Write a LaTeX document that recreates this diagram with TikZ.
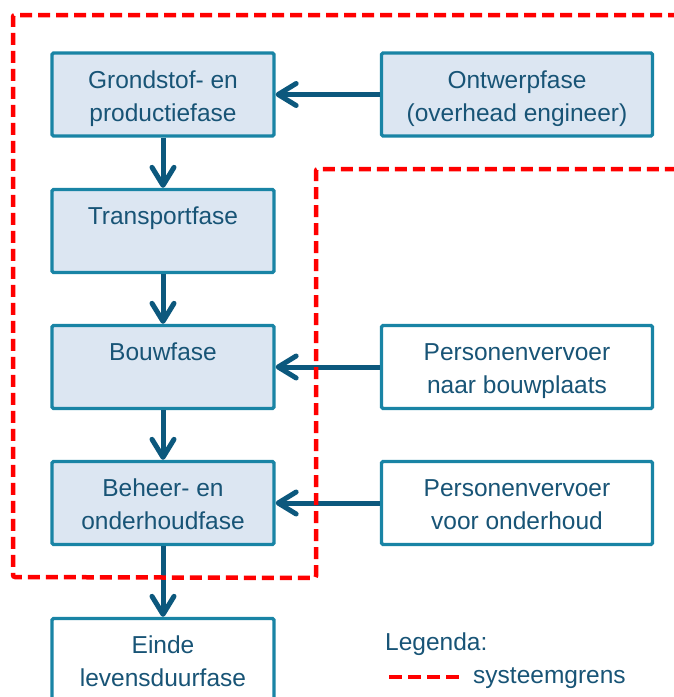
\documentclass[tikz,border=0pt]{standalone}
\usepackage{fontspec}
\setmainfont{Liberation Sans}
\usetikzlibrary{arrows.meta}
\definecolor{boxline}{RGB}{25,132,165}
\definecolor{boxfill}{RGB}{220,230,242}
\definecolor{txt}{RGB}{24,84,118}
\definecolor{arr}{RGB}{12,88,125}
\definecolor{sysred}{RGB}{255,0,0}
\tikzset{
  phase/.style={draw=boxline, line width=3.3pt, rounded corners=1.5pt, inner sep=0pt,
    minimum height=83pt, align=center, text=txt, text height=53pt, text depth=0pt,
    font=\fontsize{24.5pt}{33pt}\selectfont},
  lbox/.style={phase, fill=boxfill, minimum width=222pt},
  wbox/.style={phase, fill=white, minimum width=222pt},
  rbox/.style={phase, fill=white, minimum width=271pt},
  rboxf/.style={phase, fill=boxfill, minimum width=271pt},
  flow/.style={draw=arr, line width=5pt, -{Straight Barb[length=18pt,width=22pt,line cap=round,line join=round]}},
  border/.style={draw=sysred, line width=4.5pt, dash pattern=on 12pt off 6pt, rounded corners=2pt},
  lbl/.style={text=txt, font=\fontsize{24.5pt}{33pt}\selectfont, inner sep=0pt, anchor=base west}
}
\begin{document}
\begin{tikzpicture}[x=1pt,y=-1pt]
\useasboundingbox (0,0) rectangle (674,697);
\clip (0,0) rectangle (674,697);
\node[lbox] (g) at (163,94.5) {Grondstof- en\\productiefase};
\node[rboxf] (o) at (517,94.5) {Ontwerpfase\\(overhead engineer)};
\node[lbox] (t) at (163,231) {Transportfase\\\phantom{X}};
\node[lbox] (b) at (163,367) {Bouwfase\\\phantom{X}};
\node[rbox] (p1) at (517,367) {Personenvervoer\\naar bouwplaats};
\node[lbox] (h) at (163,503) {Beheer- en\\onderhoudfase};
\node[rbox] (p2) at (517,503) {Personenvervoer\\voor onderhoud};
\node[wbox] (e) at (163,660) {Einde\\levensduurfase};
\draw[flow] (o) -- (g);
\draw[flow] (g) -- (t);
\draw[flow] (t) -- (b);
\draw[flow] (p1) -- (b);
\draw[flow] (b) -- (h);
\draw[flow] (p2) -- (h);
\draw[flow] (h) -- (e);
\coordinate (s1) at (680,15);
\coordinate (s2) at (13,15);
\coordinate (s3) at (13,577);
\coordinate (s4) at (316,578);
\coordinate (s5) at (316,169);
\coordinate (s6) at (680,169);
\draw[border] (s1) -- (s2) -- (s3) -- (s4) -- (s5) -- (s6);
\node[lbl] (leg) at (385,650) {Legenda:};
\coordinate (l1) at (389,677);
\coordinate (l2) at (460,677);
\draw[border, dash pattern=on 13pt off 6pt] (l1) -- (l2);
\node[lbl] (sg) at (473,683) {systeemgrens};
\end{tikzpicture}
\end{document}
